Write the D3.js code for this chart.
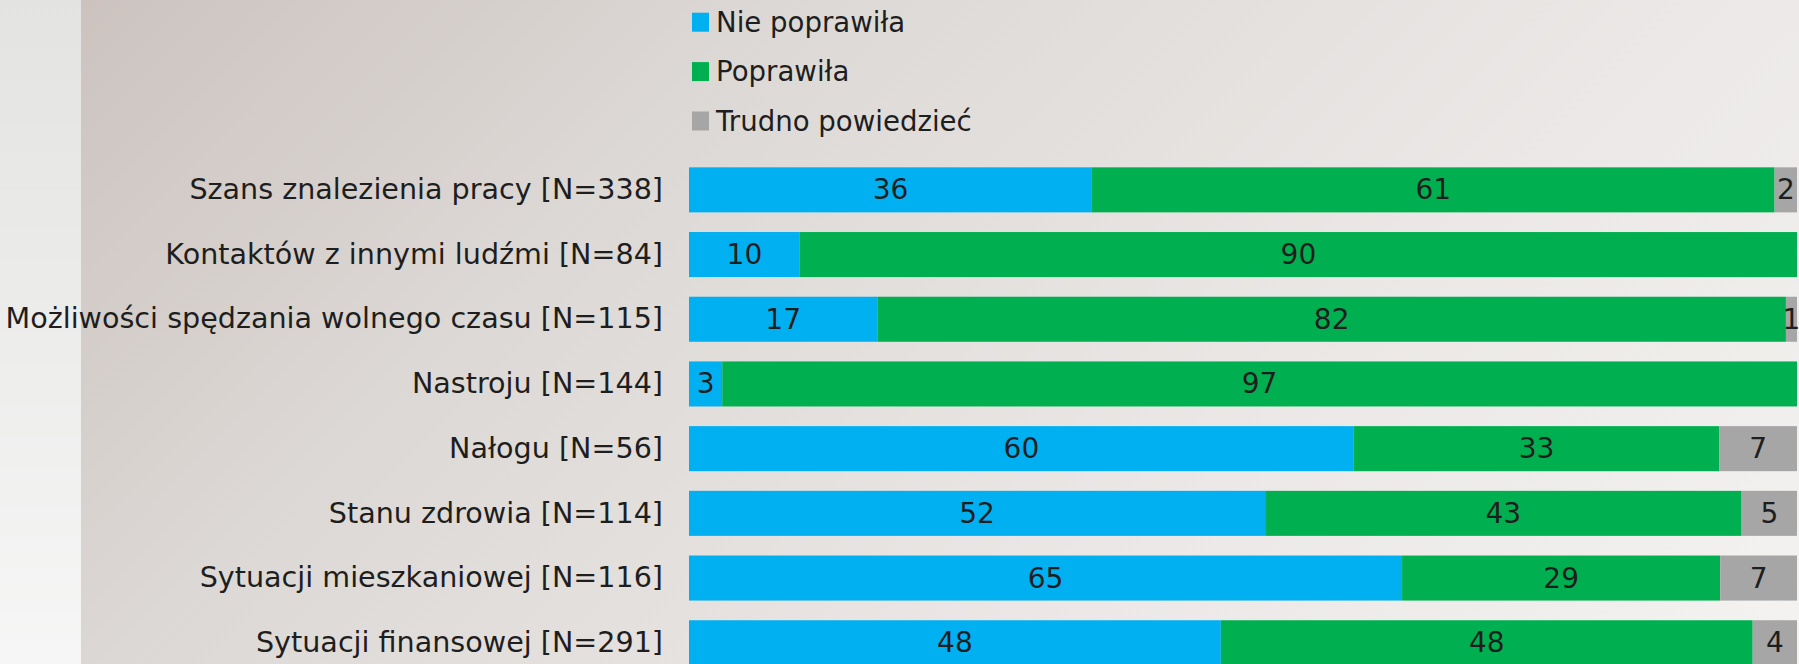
<!DOCTYPE html>
<html>
<head>
<meta charset="utf-8">
<script src="https://cdn.jsdelivr.net/npm/d3@7"></script>
<style>
  body { margin: 0; padding: 0; overflow: hidden; }
  svg { display: block; }
</style>
</head>
<body>
<svg id="chart" width="1799" height="664"></svg>
<script>
// data
var categories = [
  "Szans znalezienia pracy [N=338]",
  "Kontaktów z innymi ludźmi [N=84]",
  "Możliwości spędzania wolnego czasu [N=115]",
  "Nastroju [N=144]",
  "Nałogu [N=56]",
  "Stanu zdrowia [N=114]",
  "Sytuacji mieszkaniowej [N=116]",
  "Sytuacji finansowej [N=291]"
];
var niePoprawila = [36, 10, 17, 3, 60, 52, 65, 48];
var poprawila = [61, 90, 82, 97, 33, 43, 29, 48];
var trudno = [2, 0, 1, 0, 7, 5, 7, 4];
var seriesNames = ["Nie poprawiła", "Poprawiła", "Trudno powiedzieć"];
var colors = ["#00b0f0", "#00b050", "#a6a6a6"];

var svg = d3.select("#chart"),
    W = +svg.attr("width"),
    H = +svg.attr("height");

// background
var defs = svg.append("defs");
var gLeft = defs.append("linearGradient").attr("id", "bgLeft")
    .attr("x1", 0).attr("y1", 0).attr("x2", 0).attr("y2", 1);
gLeft.append("stop").attr("offset", 0).attr("stop-color", "#e3e3e1");
gLeft.append("stop").attr("offset", 1).attr("stop-color", "#f6f6f6");

var gMain = defs.append("linearGradient").attr("id", "bgMain")
    .attr("gradientUnits", "userSpaceOnUse")
    .attr("x1", 81).attr("y1", 0).attr("x2", 1240).attr("y2", 1159);
gMain.append("stop").attr("offset", 0).attr("stop-color", "#ccc3bf");
gMain.append("stop").attr("offset", 0.3).attr("stop-color", "#dcd8d5");
gMain.append("stop").attr("offset", 0.7).attr("stop-color", "#ebe8e7");
gMain.append("stop").attr("offset", 1).attr("stop-color", "#f3f2f1");

svg.append("rect").attr("x", 0).attr("y", 0).attr("width", 81).attr("height", H).attr("fill", "url(#bgLeft)");
svg.append("rect").attr("x", 81).attr("y", 0).attr("width", W - 81).attr("height", H).attr("fill", "url(#bgMain)");

var data = categories.map(function(c, i) {
  return { cat: c, "Nie poprawiła": niePoprawila[i], "Poprawiła": poprawila[i], "Trudno powiedzieć": trudno[i] };
});

var stack = d3.stack().keys(seriesNames).offset(d3.stackOffsetExpand);
var stacked = stack(data);

var x = d3.scaleLinear().domain([0, 1]).range([689, 1797]);

var y = d3.scaleBand()
    .domain(categories)
    .range([157.5, 675.1])
    .paddingInner(0.304)
    .paddingOuter(0.152);

var z = d3.scaleOrdinal().domain(seriesNames).range(colors);

var font = "'DejaVu Sans', sans-serif";

var layers = svg.append("g")
  .selectAll("g")
  .data(stacked)
  .enter().append("g")
    .attr("fill", function(d) { return z(d.key); });

layers.selectAll("rect")
  .data(function(d) { return d.filter(function(s) { return s.data[d.key] > 0; }); })
  .enter().append("rect")
    .attr("x", function(d) { return x(d[0]); })
    .attr("y", function(d) { return y(d.data.cat); })
    .attr("width", function(d) { return x(d[1]) - x(d[0]); })
    .attr("height", y.bandwidth());

// value labels centred in each segment
layers.each(function(layer) {
  d3.select(this).selectAll("text")
    .data(layer.filter(function(s) { return s.data[layer.key] > 0; }))
    .enter().append("text")
      .attr("x", function(d) { return (x(d[0]) + x(d[1])) / 2; })
      .attr("y", function(d) { return y(d.data.cat) + y.bandwidth() / 2; })
      .attr("dy", "0.34em")
      .attr("text-anchor", "middle")
      .attr("font-family", font)
      .attr("font-size", 28)
      .attr("fill", "#1e1e1e")
      .text(function(d) { return d.data[layer.key]; });
});

// category axis
var yAxis = svg.append("g")
    .attr("transform", "translate(689,0)")
    .call(d3.axisLeft(y).tickSize(0).tickPadding(26));
yAxis.select(".domain").remove();
yAxis.selectAll("text")
    .attr("font-family", font)
    .attr("font-size", 28.6)
    .attr("fill", "#1e1e1e");

// legend
var legend = svg.append("g")
  .selectAll("g")
  .data(seriesNames)
  .enter().append("g")
    .attr("transform", function(d, i) { return "translate(692," + (31.7 + i * 49.4) + ")"; });

legend.append("rect")
    .attr("x", 0)
    .attr("y", -19)
    .attr("width", 17)
    .attr("height", 19)
    .attr("fill", z);

legend.append("text")
    .attr("x", 24)
    .attr("y", 0)
    .attr("font-family", font)
    .attr("font-size", 27.6)
    .attr("fill", "#1e1e1e")
    .text(function(d) { return d; });
</script>
</body>
</html>
